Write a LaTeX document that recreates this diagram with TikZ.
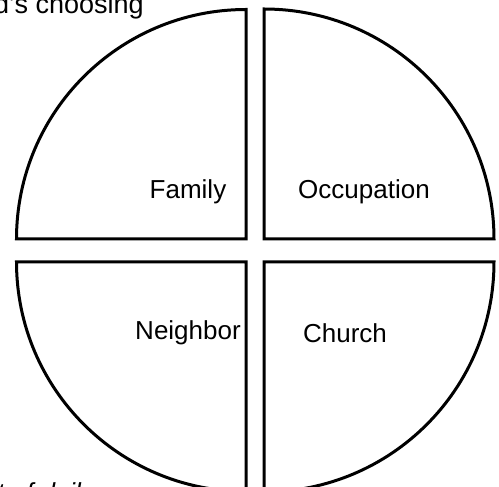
\documentclass[tikz,border=0pt]{standalone}
\usepackage{fontspec}
\setmainfont{Liberation Sans}
\usepackage{xcolor}
\definecolor{ink}{RGB}{0,0,0}
\usepackage{tikz}
\usetikzlibrary{positioning}
\tikzset{
  %% Quarter discs
  quarter/.style={draw=ink, line width=3pt, line join=miter, fill=white},
  %% Labels inside the quarters
  qlabel/.style={font=\fontsize{26}{30}\selectfont, text=ink, inner sep=0pt},
  %% Clipped caption text
  cliptext/.style={font=\fontsize{27}{31}\selectfont, text=ink, inner sep=0pt, anchor=base west},
}

\begin{document}
\begin{tikzpicture}[x=1pt,y=1pt]
\useasboundingbox (0,0) rectangle (499,487);
\clip (0,0) rectangle (499,487);
\fill[white] (0,0) rectangle (499,487);
%% four quarters
\draw[quarter] (246,248) -- (246,477.5) arc[start angle=90, end angle=180, radius=229.5] -- cycle;
\draw[quarter] (264,248) -- (494,248) arc[start angle=0, end angle=90, radius=230] -- cycle;
\draw[quarter] (246,225) -- (16.5,225) arc[start angle=180, end angle=270, radius=229.5] -- cycle;
\draw[quarter] (264,225) -- (264,-5) arc[start angle=270, end angle=360, radius=230] -- cycle;
%% labels
\node[qlabel] (family) at (188,295) {Family};
\node[qlabel] (occupation) at (364,295) {Occupation};
\node[qlabel] (neighbor) at (188,154) {Neighbor};
\node[qlabel] (church) at (345,154) {Church};
%% cut-off text at the edges
\node[cliptext] (toptext) at (-6,473) {d's choosing};
\node[cliptext, font=\itshape\fontsize{26}{30}\selectfont] (bottomtext) at (-3,-15) {t of daily};
\end{tikzpicture}
\end{document}
